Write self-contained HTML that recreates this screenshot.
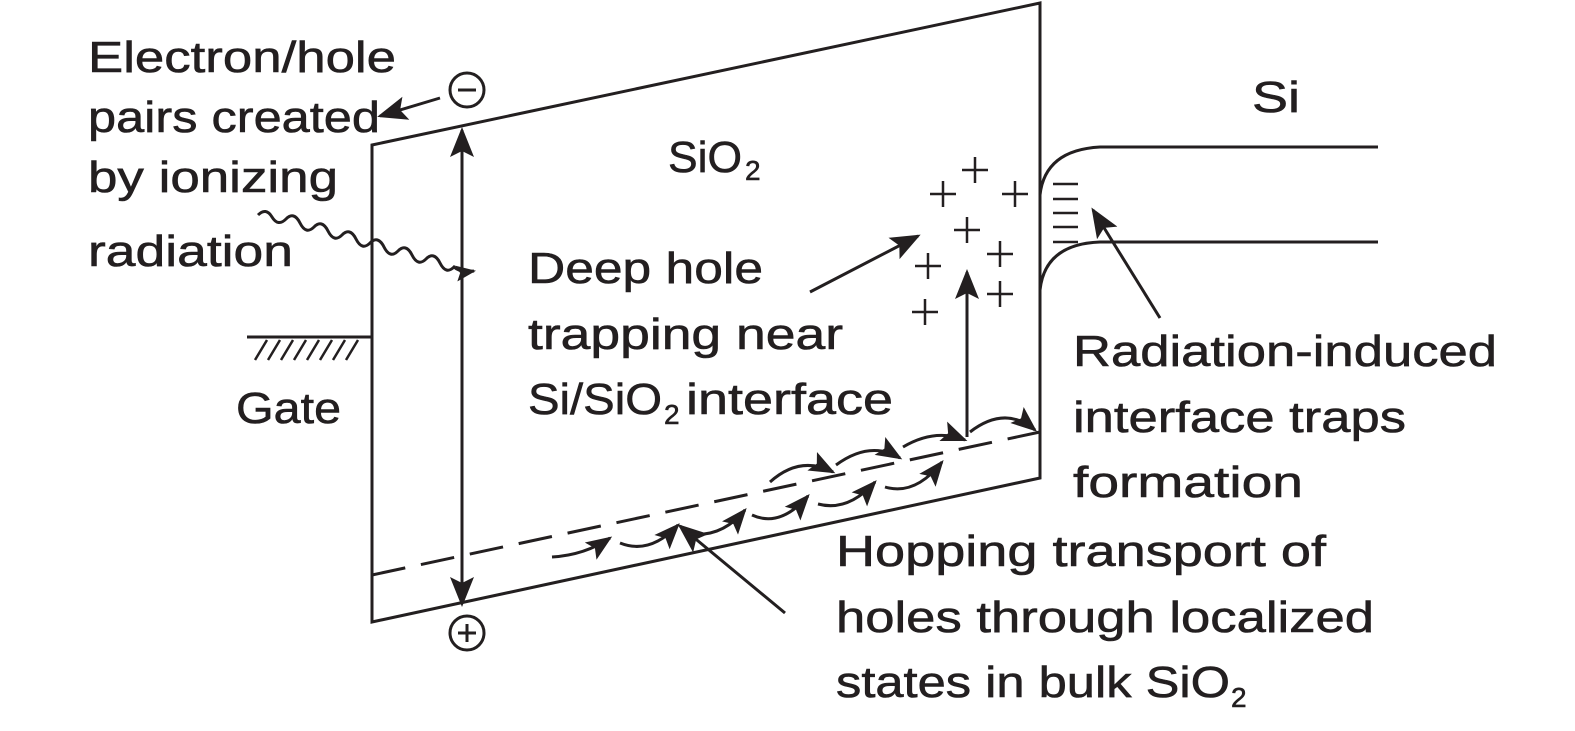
<!DOCTYPE html>
<html><head><meta charset="utf-8"><style>body{margin:0;background:#fff}svg{display:block}</style></head><body>
<svg width="1575" height="731" viewBox="0 0 1575 731" xmlns="http://www.w3.org/2000/svg">
<defs>
<marker id="b" viewBox="0 0 10 10" refX="9" refY="5" markerWidth="30" markerHeight="30" markerUnits="userSpaceOnUse" orient="auto"><path d="M0,1 L10,5 L0,9 L2,5 z" fill="#231f20"/></marker>
<marker id="c" viewBox="0 0 10 10" refX="9" refY="5" markerWidth="26" markerHeight="26" markerUnits="userSpaceOnUse" orient="auto"><path d="M0,1 L10,5 L0,9 L2,5 z" fill="#231f20"/></marker>
<marker id="d" viewBox="0 0 10 10" refX="9" refY="5" markerWidth="20" markerHeight="20" markerUnits="userSpaceOnUse" orient="auto"><path d="M0,1 L10,5 L0,9 L2,5 z" fill="#231f20"/></marker></defs>
<g stroke="#231f20" stroke-width="3" fill="none">
<path d="M372,622 L372,145 L1040,3 L1040,478 Z"/>
<path d="M372,575 L1040,432" stroke-dasharray="34,16"/>
<path d="M462,300 L462,130" marker-end="url(#b)"/><path d="M462,300 L462,604" marker-end="url(#b)"/>
<circle cx="467" cy="90" r="17"/><path d="M458,90 H476"/>
<circle cx="467" cy="633" r="17"/><path d="M458,633 H476 M467,624 V642"/>
<path d="M440,98 L380,116" marker-end="url(#b)"/>
<path d="M258,215 q8,-8 14,2 t14,2 t14,4 t14,4 t14,4 t14,4 t14,4 t14,4 t14,4 t14,4 t14,4 t14,4 t14,4 t14,4 q6,6 20,4" marker-end="url(#d)"/>
<path d="M247,337 H372"/>
<path d="M255,360 l12,-20 M268,360 l12,-20 M281,360 l12,-20 M294,360 l12,-20 M307,360 l12,-20 M320,360 l12,-20 M333,360 l12,-20 M346,360 l12,-20" stroke-width="2.5"/>
<path d="M1040,195 Q1045,150 1100,147 H1378"/>
<path d="M1040,290 Q1045,244 1100,242 H1378"/>
<path d="M1053,184 h25 M1053,199 h25 M1053,213 h25 M1053,227 h25 M1053,242 h25" stroke-width="2.5"/>
<path d="M1160,318 L1093,210" marker-end="url(#b)"/>
<path d="M967,437 L967,272" marker-end="url(#b)"/>
<path d="M810,292 L918,236" marker-end="url(#b)"/>
<path d="M785,613 L680,526" marker-end="url(#b)"/>
<g stroke-width="2.5">
<path d="M930,194 h26 M943,181 v26 M962,170 h26 M975,157 v26 M1002,194 h26 M1015,181 v26 M954,230 h26 M967,217 v26 M915,266 h26 M928,253 v26 M987,254 h26 M1000,241 v26 M912,312 h26 M925,299 v26 M987,294 h26 M1000,281 v26"/>
</g>
<g marker-end="url(#c)">
<path d="M552,557 Q585,555 610,538"/><path d="M620,543 Q650,555 678,525"/>
<path d="M685,533 Q720,540 745,510"/><path d="M752,515 Q780,528 808,496"/>
<path d="M818,504 Q848,512 875,482"/><path d="M885,487 Q915,496 942,462"/>
<path d="M770,482 Q800,455 833,472"/><path d="M836,465 Q870,440 900,458"/>
<path d="M903,447 Q935,428 965,440"/><path d="M970,432 Q1005,405 1035,430"/>
</g>
</g>
<g font-family="'Liberation Sans',sans-serif" font-size="44" fill="#231f20" stroke="#231f20" stroke-width="0.6" lengthAdjust="spacingAndGlyphs">
<text x="88" y="72" textLength="308" lengthAdjust="spacingAndGlyphs">Electron/hole</text>
<text x="88" y="132" textLength="292" lengthAdjust="spacingAndGlyphs">pairs created</text>
<text x="88" y="192" textLength="250" lengthAdjust="spacingAndGlyphs">by ionizing</text>
<text x="88" y="266" textLength="205" lengthAdjust="spacingAndGlyphs">radiation</text>
<text x="236" y="423" textLength="105" lengthAdjust="spacingAndGlyphs">Gate</text>
<text x="668" y="172" textLength="74" lengthAdjust="spacingAndGlyphs">SiO</text>
<text x="745" y="180" font-size="28">2</text>
<text x="1252" y="112" textLength="48" lengthAdjust="spacingAndGlyphs">Si</text>
<text x="528" y="283" textLength="235" lengthAdjust="spacingAndGlyphs">Deep hole</text>
<text x="528" y="349" textLength="315" lengthAdjust="spacingAndGlyphs">trapping near</text>
<text x="528" y="414" textLength="134" lengthAdjust="spacingAndGlyphs">Si/SiO</text>
<text x="664" y="424" font-size="28">2</text>
<text x="686" y="414" textLength="207" lengthAdjust="spacingAndGlyphs">interface</text>
<text x="1073" y="366" textLength="424" lengthAdjust="spacingAndGlyphs">Radiation-induced</text>
<text x="1073" y="432" textLength="333" lengthAdjust="spacingAndGlyphs">interface traps</text>
<text x="1073" y="497" textLength="230" lengthAdjust="spacingAndGlyphs">formation</text>
<text x="836" y="566" textLength="490" lengthAdjust="spacingAndGlyphs">Hopping transport of</text>
<text x="836" y="632" textLength="538" lengthAdjust="spacingAndGlyphs">holes through localized</text>
<text x="836" y="697" textLength="394" lengthAdjust="spacingAndGlyphs">states in bulk SiO</text>
<text x="1231" y="707" font-size="28">2</text>
</g>
</svg>
</body></html>
